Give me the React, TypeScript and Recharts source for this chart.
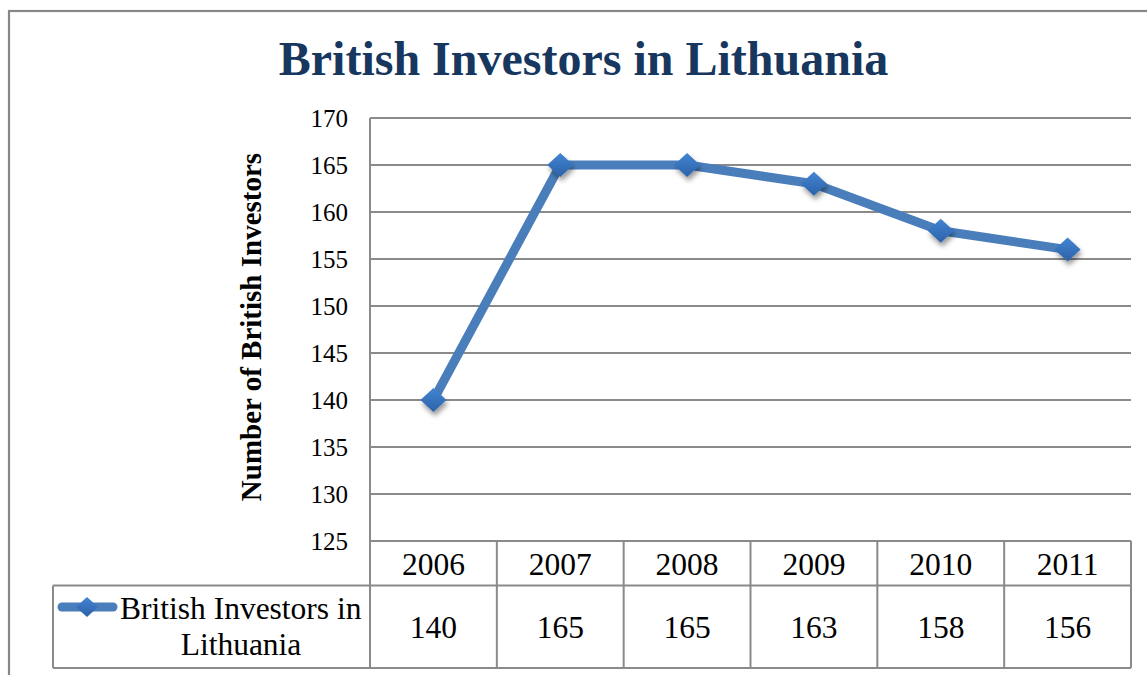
import React from 'react';
import { LineChart, Line, XAxis, YAxis, CartesianGrid } from 'recharts';

const years = ['2006', '2007', '2008', '2009', '2010', '2011'];
const investors = [140, 165, 165, 163, 158, 156];
const yTicks = [125, 130, 135, 140, 145, 150, 155, 160, 165, 170];
const seriesName = 'British Investors in Lithuania';
const chartTitle = 'British Investors in Lithuania';
const yAxisTitle = 'Number of British Investors';

const data = years.map((y, i) => ({ year: y, investors: investors[i] }));

const W = 1147;
const H = 675;
const PLOT_LEFT = 370;
const PLOT_RIGHT = 1131;
const LEGEND_LEFT = 53;
const FONT = '"Liberation Serif", "Times New Roman", serif';
const GRID = '#8a8a8a';
const LINE = '#4A7EBB';

const Diamond = (props: any) => {
  const { cx, cy, hw = 13, hh = 12, shadow = true } = props;
  if (cx == null || cy == null) return null;
  const pts = `${cx},${cy - hh} ${cx + hw},${cy} ${cx},${cy + hh} ${cx - hw},${cy}`;
  return (
    <polygon
      points={pts}
      fill="url(#diamondGrad)"
      filter={shadow ? 'url(#dropShadow)' : undefined}
    />
  );
};

const TableTick = (props: any) => {
  const { x, y, index } = props;
  const n = years.length;
  const colW = (PLOT_RIGHT - PLOT_LEFT) / n;
  const rowDiv = y + 44.5;
  const bottom = y + 127;
  const words = seriesName.split(' ');
  const line1 = words.slice(0, -1).join(' ');
  const line2 = words[words.length - 1];
  return (
    <g>
      <text x={x} y={y + 34} textAnchor="middle" fontSize={31.5} fontFamily={FONT} fill="#000">
        {years[index]}
      </text>
      <text x={x} y={y + 97} textAnchor="middle" fontSize={31.5} fontFamily={FONT} fill="#000">
        {investors[index]}
      </text>
      <line x1={x + colW / 2} x2={x + colW / 2} y1={y} y2={bottom} stroke={GRID} strokeWidth={2} />
      {index === 0 && (
        <g>
          <line x1={x - colW / 2} x2={x - colW / 2} y1={y} y2={bottom} stroke={GRID} strokeWidth={2} />
          <line x1={x - colW / 2} x2={x - colW / 2 + colW * n} y1={y} y2={y} stroke={GRID} strokeWidth={2} />
          <line x1={LEGEND_LEFT} x2={x - colW / 2 + colW * n} y1={rowDiv} y2={rowDiv} stroke={GRID} strokeWidth={2} />
          <line x1={LEGEND_LEFT} x2={x - colW / 2 + colW * n} y1={bottom} y2={bottom} stroke={GRID} strokeWidth={2} />
          <line x1={LEGEND_LEFT} x2={LEGEND_LEFT} y1={rowDiv} y2={bottom} stroke={GRID} strokeWidth={2} />
          <line x1={62} x2={113} y1={y + 66} y2={y + 66} stroke={LINE} strokeWidth={9} strokeLinecap="round" />
          <Diamond cx={87} cy={y + 66} hw={11} hh={10} shadow={false} />
          <text x={120} y={y + 78} textAnchor="start" fontSize={31.5} fontFamily={FONT} fill="#000">
            {line1}
          </text>
          <text x={241} y={y + 114} textAnchor="middle" fontSize={31.5} fontFamily={FONT} fill="#000">
            {line2}
          </text>
        </g>
      )}
    </g>
  );
};

export default function App() {
  return (
    <div style={{ position: 'fixed', left: 0, top: 0, width: W, height: H, overflow: 'hidden', background: '#fff' }}>
      <svg width={0} height={0} style={{ position: 'absolute' }}>
        <defs>
          <linearGradient id="diamondGrad" x1="0" y1="0" x2="0" y2="1">
            <stop offset="0%" stopColor="#4384D2" />
            <stop offset="100%" stopColor="#2B62A8" />
          </linearGradient>
          <filter id="dropShadow" x="-50%" y="-50%" width="200%" height="200%">
            <feDropShadow dx="1.5" dy="4" stdDeviation="2.5" floodColor="#000" floodOpacity="0.4" />
          </filter>
        </defs>
      </svg>
      <div style={{ position: 'absolute', left: 0, top: 0 }}>
        <LineChart width={W} height={H} data={data} margin={{ top: 118, right: W - PLOT_RIGHT, bottom: 7, left: PLOT_LEFT - 60 }}>
          <CartesianGrid horizontal={true} vertical={false} stroke={GRID} strokeWidth={2} />
          <XAxis
            dataKey="year"
            type="category"
            scale="band"
            height={127}
            interval={0}
            axisLine={false}
            tickLine={false}
            tickSize={0}
            tickMargin={0}
            tick={<TableTick />}
          />
          <YAxis
            width={60}
            domain={[125, 170]}
            ticks={yTicks}
            interval={0}
            axisLine={{ stroke: GRID, strokeWidth: 2 }}
            tickLine={false}
            tickSize={0}
            tickMargin={22}
            tick={{ fontSize: 25, fill: '#000', fontFamily: FONT }}
          />
          <Line
            type="linear"
            dataKey="investors"
            name={seriesName}
            stroke={LINE}
            strokeWidth={9}
            strokeLinejoin="round"
            dot={<Diamond />}
            activeDot={false}
            isAnimationActive={false}
          />
        </LineChart>
      </div>
      <svg width={W} height={H} style={{ position: 'absolute', left: 0, top: 0, pointerEvents: 'none' }}>
        <rect x={9} y={11} width={1300} height={800} fill="none" stroke="#878787" strokeWidth={2.2} />
        <text x={583.5} y={75} textAnchor="middle" fontSize={48} fontWeight="bold" fontFamily={FONT} fill="#17375E">
          {chartTitle}
        </text>
        <text
          x={261}
          y={327}
          transform="rotate(-90, 261, 327)"
          textAnchor="middle"
          fontSize={29}
          fontWeight="bold"
          fontFamily={FONT}
          fill="#000"
        >
          {yAxisTitle}
        </text>
      </svg>
    </div>
  );
}
